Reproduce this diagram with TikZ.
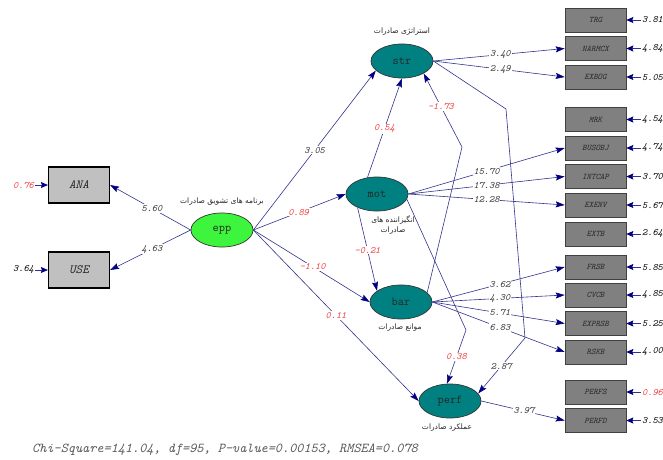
\documentclass[tikz,border=0pt]{standalone}
\usepackage{fontspec}
\usetikzlibrary{shapes.geometric,arrows.meta}
\newfontfamily\farsifont[Script=Arabic]{DejaVu Sans}
\TeXXeTstate=1

\definecolor{lisblue}{RGB}{50,50,140}
\definecolor{lisnavy}{RGB}{0,0,128}
\definecolor{listeal}{RGB}{0,128,128}
\definecolor{lisgreen}{RGB}{60,245,60}
\definecolor{lisred}{RGB}{240,60,60}
\definecolor{cajaclara}{RGB}{192,192,192}
\definecolor{cajaoscura}{RGB}{128,128,128}

\tikzset{
  latente/.style={ellipse, draw=black!80, line width=0.7pt, fill=listeal,
    minimum width=62pt, minimum height=34pt, inner sep=0pt, text=black!85,
    font=\ttfamily\fontsize{12}{13}\selectfont},
  observada/.style={rectangle, draw=black!75, line width=0.6pt, fill=cajaoscura,
    minimum width=61pt, minimum height=24pt, inner sep=0pt, text=black!85,
    font=\ttfamily\itshape\fontsize{8.5}{9}\selectfont},
  observadaizq/.style={observada, fill=cajaclara, draw=black, line width=1.2pt,
    minimum height=36pt, font=\ttfamily\itshape\fontsize{12.5}{13}\selectfont},
  camino/.style={draw=lisblue, line width=0.6pt,
    -{Stealth[length=9pt,width=6pt,inset=1.5pt,color=lisnavy]}},
  errflecha/.style={draw=lisblue, line width=0.8pt,
    -{Stealth[length=7pt,width=6pt,inset=1pt,color=lisnavy]}},
  coef/.style={fill=white, inner sep=1pt, text=black!80,
    font=\ttfamily\itshape\fontsize{9.8}{11}\selectfont},
  coefrojo/.style={coef, text=lisred},
  errnum/.style={inner sep=1pt, font=\ttfamily\itshape\fontsize{9.8}{11}\selectfont},
  etiqueta/.style={font=\farsifont\fontsize{7.5}{10}\selectfont, text=black!85, align=center},
  pie/.style={text=black!65, font=\ttfamily\itshape\fontsize{13.6}{15}\selectfont}
}

\begin{document}
\begin{tikzpicture}[x=1pt, y=-1pt]
    \useasboundingbox (0,0) rectangle (663,459);

    % Variables latentes
    \node[latente, fill=lisgreen] (epp) at (222,230) {epp};
    \node[latente] (str) at (402,61) {str};
    \node[latente] (mot) at (377,194) {mot};
    \node[latente] (bar) at (401,302) {bar};
    \node[latente] (perf) at (450,401) {perf};

    % Etiquetas en persa
    \node[etiqueta] (lepp) at (222,202) {\beginR برنامه های تشویق صادرات\endR};
    \node[etiqueta] (lstr) at (402,32) {\beginR استراتژی صادرات\endR};
    \node[etiqueta] (lmot) at (393,225) {\beginR انگیزاننده های\endR\\\beginR صادرات\endR};
    \node[etiqueta] (lbar) at (400,328) {\beginR موانع صادرات\endR};
    \node[etiqueta] (lperf) at (447,428) {\beginR عملکرد صادرات\endR};

    % Indicadores de epp
    \node[observadaizq] (ANA) at (79,185) {ANA};
    \node[observadaizq] (USE) at (79,270) {USE};
    \node[errnum, text=lisred, anchor=east] (eANA) at (35,185) {0.76};
    \node[errnum, anchor=east] (eUSE) at (35,270) {3.64};
    \draw[errflecha] (eANA) -- (ANA);
    \draw[errflecha] (eUSE) -- (USE);

    % Indicadores de la derecha
    \foreach \nom/\yy/\err/\col in {TRG/20/3.81/black, NARMCX/48.5/4.84/black,
        EXBOG/77/5.05/black, MRK/119.5/4.54/black, BUSOBJ/148/4.74/black,
        INTCAP/176.5/3.70/black, EXENV/205/5.67/black, EXTB/234/2.64/black,
        FRSB/267/5.85/black, CVCB/295/4.85/black, EXPRSB/323.5/5.25/black,
        RSKB/352/4.00/black, PERFS/392/0.96/lisred, PERFD/420.5/3.53/black}{
      \node[observada] (\nom) at (595.5,\yy) {\nom};
      \node[errnum, text=\col, anchor=west] (e\nom) at (641,\yy) {\err};
      \draw[errflecha] (e\nom) -- (\nom);
    }

    % Codos
    \coordinate (codoA) at (462,147);
    \coordinate (codoB) at (466,330);
    \coordinate (codoC) at (506,109);
    \coordinate (codoD) at (525,338);

    % Cargas
    \draw[camino] (epp.west) -- node[coef, pos=0.48] {5.60} (ANA.east);
    \draw[camino] (epp.west) -- node[coef, pos=0.48] {4.63} (USE.east);
    \draw[camino] (str.east) -- node[coef, pos=0.51] {3.40} (NARMCX.west);
    \draw[camino] (str.east) -- node[coef, pos=0.51] {2.49} (EXBOG.west);
    \draw[camino] (mot.east) -- node[coef, pos=0.5] {15.70} (BUSOBJ.west);
    \draw[camino] (mot.east) -- node[coef, pos=0.5] {17.38} (INTCAP.west);
    \draw[camino] (mot.east) -- node[coef, pos=0.5] {12.28} (EXENV.west);
    \draw[camino] (bar.east) -- node[coef, pos=0.51] {3.62} (FRSB.west);
    \draw[camino] (bar.east) -- node[coef, pos=0.51] {4.30} (CVCB.west);
    \draw[camino] (bar.east) -- node[coef, pos=0.51] {5.71} (EXPRSB.west);
    \draw[camino] (bar.east) -- node[coef, pos=0.51] {6.83} (RSKB.west);
    \draw[camino] (perf.east) -- node[coef, pos=0.51] {3.97} (PERFD.west);

    % Relaciones estructurales
    \draw[camino] (epp.east) -- node[coef, pos=0.5] {3.05} (str.200);
    \draw[camino] (epp.east) -- node[coefrojo, pos=0.49] {0.89} (mot.west);
    \draw[camino] (epp.east) -- node[coefrojo, pos=0.51] {-1.10} (bar.west);
    \draw[camino] (epp.east) -- node[coefrojo, pos=0.5] {0.11} (perf.west);
    \draw[camino] (mot.120) -- node[coefrojo, pos=0.49] {0.54} (str.south);
    \draw[camino] (mot.215) -- node[coefrojo, pos=0.51] {-0.21} (bar.155);
    \draw[camino] (bar.20) -- (codoA) -- node[coefrojo, pos=0.55] {-1.73} (str.330);
    \draw[camino] (mot.350) -- (codoB) -- node[coefrojo, pos=0.5] {0.38} (perf.100);
    \draw[camino] (str.east) -- (codoC) -- (codoD) -- node[coef, pos=0.51] {2.87} (perf.15);

    % Ajuste del modelo
    \node[pie] (ajuste) at (225,450) {Chi-Square=141.04, df=95, P-value=0.00153, RMSEA=0.078};

  \end{tikzpicture}
\end{document}
